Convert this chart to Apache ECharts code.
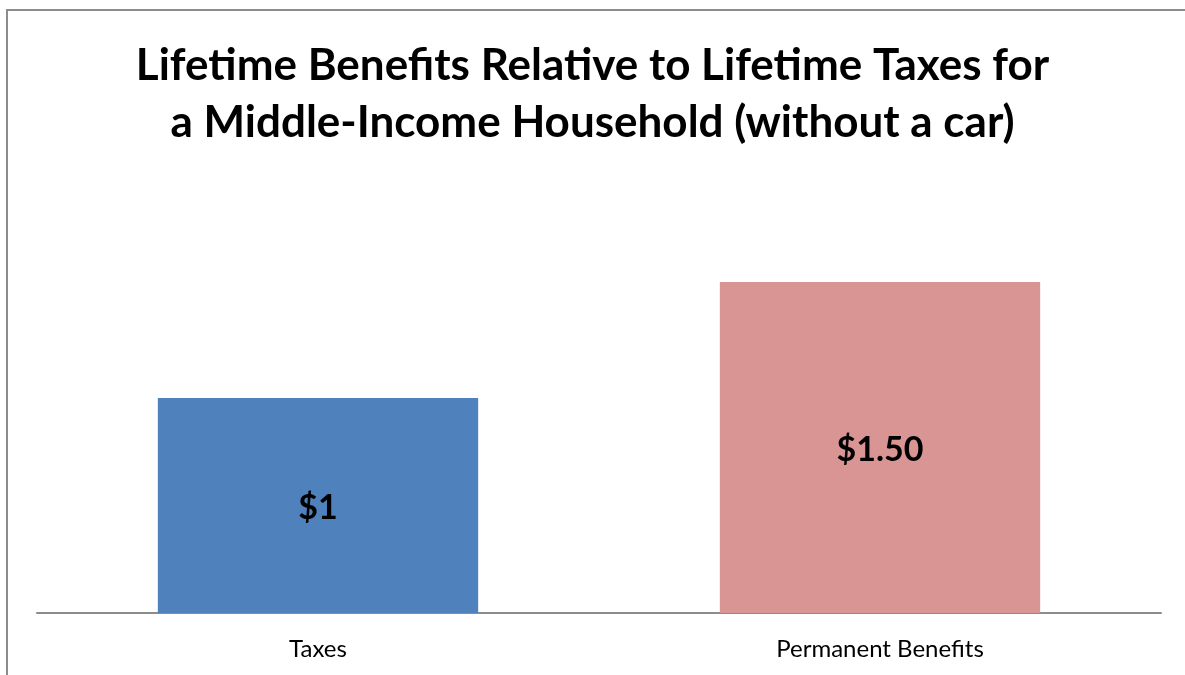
<!DOCTYPE html>
<html>
<head>
<meta charset="utf-8">
<script src="https://cdn.jsdelivr.net/npm/echarts@6/dist/echarts.min.js"></script>
<style>
  html, body { margin: 0; padding: 0; background: #fff; }
  #chart { width: 1185px; height: 675px; }
</style>
</head>
<body>
<div id="chart"></div>
<script>
const categories = ['Taxes', 'Permanent Benefits']
const values = [1, 1.54]
const valueLabels = ['$1', '$1.50']
const barColors = ['#4f81bd', '#d99594']

const chart = echarts.init(document.getElementById('chart'))

chart.setOption({
  backgroundColor: '#fff',
  animation: false,
  title: {
    text: 'Lifetime Benefits Relative to Lifetime Taxes for\na Middle-Income Household (without a car)',
    left: 'center',
    top: 32,
    textStyle: {
      fontFamily: 'Lato',
      fontWeight: 'bold',
      fontSize: 44,
      lineHeight: 57,
      color: '#000'
    }
  },
  graphic: [
    {
      type: 'rect',
      shape: { x: 7, y: 10, width: 1400, height: 900 },
      style: { fill: 'none', stroke: '#8c8c8c', lineWidth: 2 },
      silent: true
    }
  ],
  grid: { left: 37, right: 24, top: 183, bottom: 62 },
  xAxis: {
    type: 'category',
    data: categories,
    axisTick: { show: false },
    axisLine: { lineStyle: { color: '#8c8c8c', width: 2 } },
    axisLabel: { fontFamily: 'Lato', fontSize: 24, color: '#000', margin: 24 }
  },
  yAxis: {
    type: 'value',
    min: 0,
    max: 2,
    show: false,
    splitLine: { show: false }
  },
  series: [
    {
      type: 'bar',
      barWidth: '57%',
      data: values.map((v, i) => ({ value: v, itemStyle: { color: barColors[i] } })),
      label: {
        show: true,
        position: 'inside',
        offset: [0, 3],
        formatter: p => valueLabels[p.dataIndex],
        fontFamily: 'Lato',
        fontWeight: 'bold',
        fontSize: 34,
        color: '#000'
      }
    }
  ]
})
</script>
</body>
</html>
